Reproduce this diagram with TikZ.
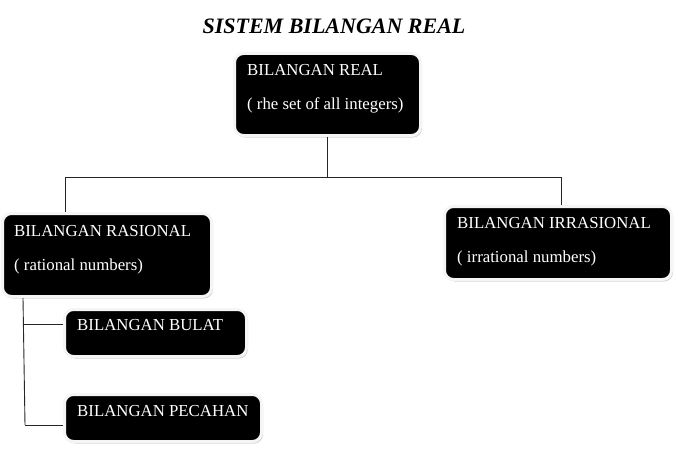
\documentclass[tikz,border=0pt]{standalone}
\usepackage{fontspec}
\setmainfont{Liberation Serif}
\usepackage{xcolor}
\usepackage{tikz}
\usetikzlibrary{shadows}
\usetikzlibrary{positioning}
\usetikzlibrary{calc}
\tikzstyle{blackbox}=[rectangle,rounded corners=9pt,fill=black,draw=gray!8,line width=3pt,inner sep=0pt,drop shadow={shadow xshift=1.5pt,shadow yshift=-2pt,fill=gray!70}]
\tikzstyle{boxtext}=[anchor=base west,text=white,align=left,inner sep=0pt,font=\fontsize{16.8}{19}\selectfont]
\tikzstyle{connector} = [draw,black!85,line width=0.9pt]
\tikzset{headline/.style={font=\fontsize{22}{26}\selectfont\bfseries\itshape}}

\begin{document}
\begin{tikzpicture}[x=1pt,y=-1pt]
	\useasboundingbox (0,0) rectangle (678,452);

	\def\gap{15pt};
	\def\bus{177};
	\def\spine{23};

%title
	\node[headline] (title) at (334,26) {SISTEM BILANGAN REAL};

%boxes
    \foreach \pos/\name/\w/\h in {{(327.5,94.5)/real/186/82}, {(107,255)/rasional/209/83}, {(558,243)/irrasional/227/73}, {(155.5,333)/bulat/182/47}, {(163,418)/pecahan/197/47}}
        \node[blackbox,minimum width=\w pt,minimum height=\h pt] (\name) at \pos {};

%texts (base = last line)
    \foreach \pos/\name/\label in {{(247,110)/realtxt/{BILANGAN REAL\\[\gap]( rhe set of all integers)}}, {(14,270)/rasionaltxt/{BILANGAN RASIONAL\\[\gap]( rational numbers)}}, {(457,262)/irrasionaltxt/{BILANGAN IRRASIONAL\\[\gap]( irrational numbers)}}, {(77,330)/bulattxt/{BILANGAN BULAT}}, {(77,416)/pecahantxt/{BILANGAN PECAHAN}}}
        \node[boxtext] (\name) at \pos {\label};

%tree lines
	\coordinate (busL) at (65,\bus);
	\coordinate (busR) at (561,\bus);
	\coordinate (spineTop) at (\spine,298);
	\coordinate (spineBot) at (\spine+2,425);
	\path[connector] (real.south) -- (real.south |- busL);
	\path[connector] (rasional.north -| busL) -- (busL) -- (busR) -- (irrasional.north -| busR);
	\path[connector] (spineTop) -- (spineBot);
	\path[connector] (\spine+1,324) -- (bulat.west |- 0,324);
	\path[connector] (spineBot) -- (pecahan.west |- spineBot);

\end{tikzpicture}
\end{document}
